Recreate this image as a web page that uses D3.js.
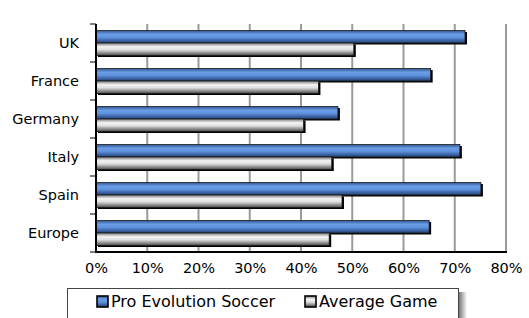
<!DOCTYPE html>
<html>
<head>
<meta charset="utf-8">
<script src="https://cdn.jsdelivr.net/npm/d3@7"></script>
<style>
  body { margin: 0; background: #fff; }
  svg { display: block; font-family: "DejaVu Sans", Verdana, sans-serif; }
</style>
</head>
<body>
<svg width="529" height="318"></svg>
<script>
// categories and values
var countries = ["UK", "France", "Germany", "Italy", "Spain", "Europe"]
var seriesNames = ["Pro Evolution Soccer", "Average Game"]
var pesShare = [0.72, 0.653, 0.472, 0.71, 0.751, 0.65]
var avgShare = [0.503, 0.434, 0.405, 0.46, 0.48, 0.455]
var xTicks = [0, 0.1, 0.2, 0.3, 0.4, 0.5, 0.6, 0.7, 0.8]

var svg = d3.select("svg")

var plot = {left: 96, right: 506, top: 24, bottom: 252}

var x = d3.scaleLinear().domain([0, 0.8]).range([plot.left, plot.right])
var y = d3.scaleBand().domain(countries).range([plot.top, plot.bottom])
    .paddingInner(0.342).paddingOuter(0.171)
var ySub = d3.scaleBand().domain([0, 1]).range([0, y.bandwidth()])

// gradients for the bars (Excel-ish cylinder look)
var defs = svg.append("defs")
function grad(id, stops) {
    var g = defs.append("linearGradient").attr("id", id)
        .attr("x1", 0).attr("y1", 0).attr("x2", 0).attr("y2", 1)
    stops.forEach(s => g.append("stop").attr("offset", s[0]).attr("stop-color", s[1]))
}
grad("blueGrad", [[0, "#2f5590"], [0.3, "#6b9de6"], [0.55, "#5f92df"], [1, "#203f72"]])
grad("greyGrad", [[0, "#7a7a7a"], [0.3, "#f4f4f4"], [0.55, "#dedede"], [1, "#4a4a4a"]])
var sg = defs.append("linearGradient").attr("id", "shadowGrad")
sg.append("stop").attr("offset", 0).attr("stop-color", "#777")
sg.append("stop").attr("offset", 1).attr("stop-color", "#fff")
var fills = ["url(#blueGrad)", "url(#greyGrad)"]

// vertical gridlines
svg.append("g").selectAll("line")
    .data(xTicks.slice(1))
    .enter().append("line")
    .attr("x1", d => x(d)).attr("x2", d => x(d))
    .attr("y1", plot.top).attr("y2", plot.bottom)
    .attr("stroke", "#9a9a9a").attr("stroke-width", 2)

// bars
var rows = countries.map((c, i) => ({country: c, values: [pesShare[i], avgShare[i]]}))
var groups = svg.append("g").selectAll("g")
    .data(rows).enter().append("g")
    .attr("transform", d => `translate(0,${y(d.country)})`)

var bars = groups.selectAll("g")
    .data(d => d.values.map((v, k) => ({v: v, k: k})))
    .enter().append("g")

bars.append("rect")
    .attr("x", x(0) + 2)
    .attr("y", d => ySub(d.k) + 1.5)
    .attr("width", d => x(d.v) - x(0))
    .attr("height", ySub.bandwidth())
    .attr("fill", "#000")
bars.append("rect")
    .attr("x", x(0))
    .attr("y", d => ySub(d.k))
    .attr("width", d => x(d.v) - x(0))
    .attr("height", ySub.bandwidth())
    .attr("fill", d => fills[d.k])
    .attr("stroke", "#1c1c1c").attr("stroke-width", 0.8)

// axes
var yAxis = d3.axisLeft(y).tickSize(0).tickPadding(17)
var yG = svg.append("g").attr("transform", `translate(${plot.left},0)`).call(yAxis)
yG.select(".domain").remove()
yG.selectAll("text").attr("font-size", "14.5px").attr("fill", "#000")
    .attr("font-family", "DejaVu Sans, Verdana, sans-serif")
// band boundary ticks
svg.append("g").selectAll("line")
    .data(countries.map(c => y(c) - y.step() * y.paddingInner() / 2).concat([plot.bottom]))
    .enter().append("line")
    .attr("x1", plot.left - 6).attr("x2", plot.left)
    .attr("y1", d => d).attr("y2", d => d)
    .attr("stroke", "#000").attr("stroke-width", 1)

svg.append("line").attr("x1", plot.left).attr("x2", plot.left)
    .attr("y1", plot.top).attr("y2", plot.bottom + 1)
    .attr("stroke", "#000").attr("stroke-width", 2)
svg.append("line").attr("x1", plot.left - 1).attr("x2", plot.right + 1)
    .attr("y1", plot.bottom).attr("y2", plot.bottom)
    .attr("stroke", "#000").attr("stroke-width", 2)

var xAxis = d3.axisBottom(x).tickValues(xTicks).tickFormat(d3.format(".0%"))
    .tickSize(0).tickPadding(11)
var xG = svg.append("g").attr("transform", `translate(0,${plot.bottom})`).call(xAxis)
xG.select(".domain").remove()
xG.selectAll("text").attr("font-size", "14.5px").attr("fill", "#000")
    .attr("font-family", "DejaVu Sans, Verdana, sans-serif")

// legend
var legend = svg.append("g")
legend.append("rect").attr("x", 459).attr("y", 292).attr("width", 8).attr("height", 40)
    .attr("fill", "url(#shadowGrad)")
legend.append("rect").attr("x", 67.5).attr("y", 288.5).attr("width", 391).attr("height", 40)
    .attr("fill", "#fff").attr("stroke", "#444").attr("stroke-width", 1)
var legX = [97, 305]
seriesNames.forEach((name, k) => {
    legend.append("rect").attr("x", legX[k]).attr("y", 296).attr("width", 11).attr("height", 11)
        .attr("fill", fills[k]).attr("stroke", "#000").attr("stroke-width", 1.6)
    legend.append("text").attr("x", legX[k] + 14).attr("y", 307)
        .attr("font-size", "16px").attr("fill", "#000")
        .text(name)
})
</script>
</body>
</html>
